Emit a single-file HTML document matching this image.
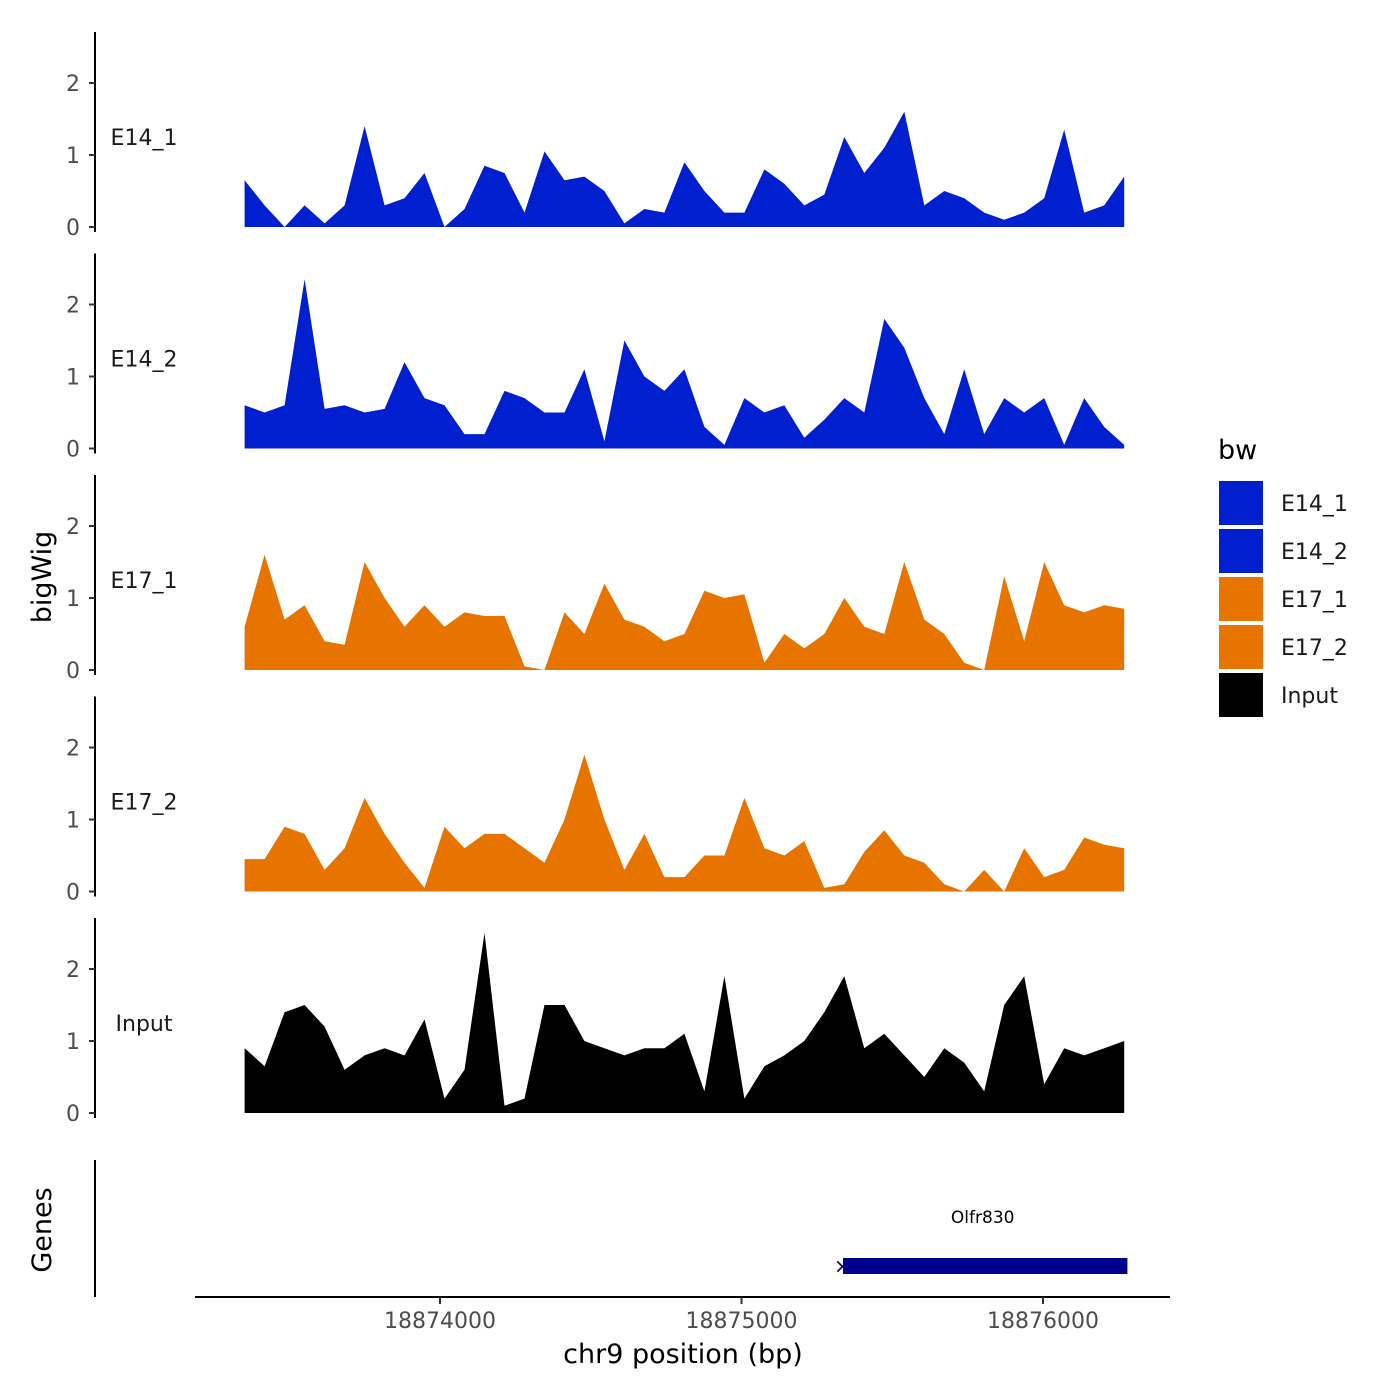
<!DOCTYPE html>
<html><head><meta charset="utf-8"><style>
body{margin:0;background:#fff}
svg{display:block;font-family:"DejaVu Sans","Liberation Sans",sans-serif}
</style></head><body>
<svg id="chart" width="1400" height="1400" viewBox="0 0 1400 1400">
<rect width="1400" height="1400" fill="#fff"/>
<text x="42" y="577" transform="rotate(-90 42 577)" text-anchor="middle" dy="9" font-size="27">bigWig</text>
<text x="42" y="1230" transform="rotate(-90 42 1230)" text-anchor="middle" dy="9" font-size="27">Genes</text>
<g id="panels"></g>
<line x1="95" y1="1160" x2="95" y2="1297" stroke="#000" stroke-width="2"/>
<line x1="195" y1="1297" x2="1170" y2="1297" stroke="#000" stroke-width="2"/>
<g id="xticks"></g>
<text x="683" y="1363" text-anchor="middle" font-size="27">chr9 position (bp)</text>
<g id="gene"></g>
<text x="1218" y="459" font-size="27">bw</text>
<g id="legend"></g>
</svg>
<script>
const NS="http://www.w3.org/2000/svg";
const samples=["E14_1","E14_2","E17_1","E17_2","Input"];
const colors=["#0020D0","#0020D0","#E87400","#E87400","#000000"];
const xTicks=[18874000,18875000,18876000];
const yTicks=[0,1,2];
const startBp=18873352, stepBp=66.3;
const e14_1=[0.65,0.3,0,0.3,0.05,0.3,1.4,0.3,0.4,0.75,0,0.25,0.85,0.75,0.2,1.05,0.65,0.7,0.5,0.05,0.25,0.2,0.9,0.5,0.2,0.2,0.8,0.6,0.3,0.45,1.25,0.75,1.1,1.6,0.3,0.5,0.4,0.2,0.1,0.2,0.4,1.35,0.2,0.3,0.7];
const e14_2=[0.6,0.5,0.6,2.35,0.55,0.6,0.5,0.55,1.2,0.7,0.6,0.2,0.2,0.8,0.7,0.5,0.5,1.1,0.1,1.5,1.0,0.8,1.1,0.3,0.05,0.7,0.5,0.6,0.15,0.4,0.7,0.5,1.8,1.4,0.7,0.2,1.1,0.2,0.7,0.5,0.7,0.05,0.7,0.3,0.05];
const e17_1=[0.6,1.6,0.7,0.9,0.4,0.35,1.5,1.0,0.6,0.9,0.6,0.8,0.75,0.75,0.05,0,0.8,0.5,1.2,0.7,0.6,0.4,0.5,1.1,1.0,1.05,0.1,0.5,0.3,0.5,1.0,0.6,0.5,1.5,0.7,0.5,0.1,0,1.3,0.4,1.5,0.9,0.8,0.9,0.85];
const e17_2=[0.45,0.45,0.9,0.8,0.3,0.6,1.3,0.8,0.4,0.05,0.9,0.6,0.8,0.8,0.6,0.4,1.0,1.9,1.0,0.3,0.8,0.2,0.2,0.5,0.5,1.3,0.6,0.5,0.7,0.05,0.1,0.55,0.85,0.5,0.4,0.1,0,0.3,0,0.6,0.2,0.3,0.75,0.65,0.6];
const input=[0.9,0.65,1.4,1.5,1.2,0.6,0.8,0.9,0.8,1.3,0.2,0.6,2.5,0.1,0.2,1.5,1.5,1.0,0.9,0.8,0.9,0.9,1.1,0.3,1.9,0.2,0.65,0.8,1.0,1.4,1.9,0.9,1.1,0.8,0.5,0.9,0.7,0.3,1.5,1.9,0.4,0.9,0.8,0.9,1.0];
const series=[e14_1,e14_2,e17_1,e17_2,input];
const geneName="Olfr830", geneStart=18875320, geneEnd=18876280;

function xs(bp){return 440+(bp-18874000)*0.3015;}
function ys(p,v){return 227+p*221.5-v*72;}
function mk(tag,attrs,parent){const e=document.createElementNS(NS,tag);for(const k in attrs)e.setAttribute(k,attrs[k]);parent.appendChild(e);return e;}

const panels=document.getElementById("panels");
series.forEach((vals,p)=>{
  const g=mk("g",{},panels);
  
  
  const ax=mk("line",{x1:95,y1:32+p*221.5,x2:95,y2:232+p*221.5,stroke:"#000","stroke-width":2},g);
  
  
  yTicks.forEach(t=>{
    const y=ys(p,t);
    const tl=mk("line",{x1:89,y1:y,x2:95,y2:y,stroke:"#333","stroke-width":2},g);
    
    
    const tx=mk("text",{x:80,y:y+8,"text-anchor":"end","font-size":22,fill:"#4d4d4d"},g);
    tx.textContent=t;
    
    
  });
  const lab=mk("text",{x:144,y:ys(p,1.25)+8,"text-anchor":"middle","font-size":22,fill:"#1a1a1a"},g);
  lab.textContent=samples[p];
  
  
  const base=ys(p,0);
  const pts=vals.map((v,i)=>xs(startBp+i*stepBp).toFixed(1)+","+ys(p,v).toFixed(1));
  pts.unshift(xs(startBp).toFixed(1)+","+base);
  pts.push(xs(startBp+(vals.length-1)*stepBp).toFixed(1)+","+base);
  const poly=mk("polygon",{points:pts.join(" "),fill:colors[p]},g);
  
  
});

const xt=document.getElementById("xticks");
xTicks.forEach(t=>{
  const x=xs(t);
  const l=mk("line",{x1:x,y1:1297,x2:x,y2:1304,stroke:"#333","stroke-width":2},xt);
  
  
  const tx=mk("text",{x:x,y:1328,"text-anchor":"middle","font-size":22,fill:"#4d4d4d"},xt);
  tx.textContent=t;
  
  
});

const gg=document.getElementById("gene");
const gb=mk("rect",{x:xs(geneStart)+5,y:1258,width:xs(geneEnd)-xs(geneStart)-5,height:16,fill:"#00008B"},gg);


const gx=mk("text",{x:xs(geneStart)-4,y:1273,"font-size":20,fill:"#00008B"},gg);
gx.textContent="×";


const gl=mk("text",{x:(xs(geneStart)+xs(geneEnd))/2,y:1223,"text-anchor":"middle","font-size":17},gg);
gl.textContent=geneName;



const lg=document.getElementById("legend");
samples.forEach((s,i)=>{
  const y=481+i*48;
  const r=mk("rect",{x:1219,y:y,width:44,height:44,fill:colors[i]},lg);
  
  
  const t=mk("text",{x:1281,y:y+30,"font-size":22,fill:"#1a1a1a"},lg);
  t.textContent=s;
  
  
});
</script>
</body></html>
